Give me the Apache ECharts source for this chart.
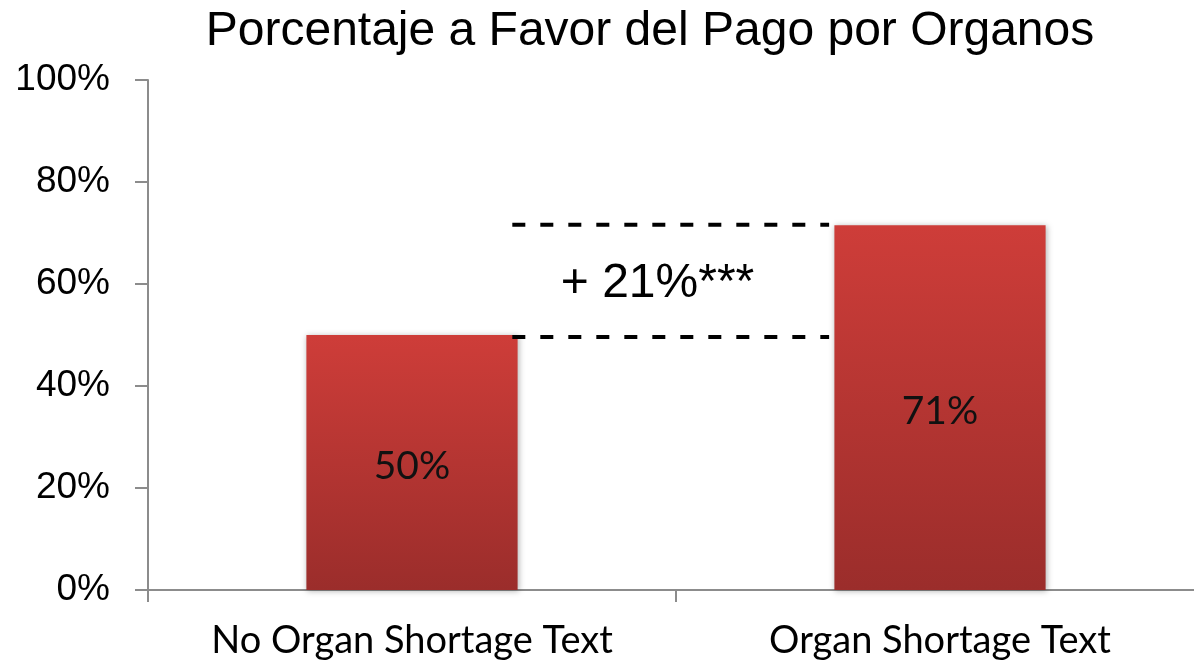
<!DOCTYPE html>
<html>
<head>
<meta charset="utf-8">
<script src="https://cdn.jsdelivr.net/npm/echarts@6/dist/echarts.min.js"></script>
<style>
  html, body { margin: 0; padding: 0; background: #fff; }
  #chart { width: 1194px; height: 666px; }
</style>
</head>
<body>
<div id="chart"></div>
<script>
// 数据
const categories = ['No Organ Shortage Text', 'Organ Shortage Text']
const favor = [50, 71.5]
const favorLabels = ['50%', '71%']
// 差值括线（副 x 轴 0..2 上的位置）
const bracketX = [0.69, 1.29]
const bracketY = [49.6, 71.6]
const diffText = '+ 21%***'
const diffPos = [0.965, 60.0]

const chart = echarts.init(document.getElementById('chart'))

const axisGray = '#8c8c8c'

const option = {
  animation: false,
  title: {
    text: 'Porcentaje a Favor del Pago por Organos',
    left: 645,
    top: 3,
    textAlign: 'center',
    textStyle: {
      fontFamily: 'Liberation Sans, Arial, sans-serif',
      fontSize: 48,
      fontWeight: 'normal',
      color: '#000'
    }
  },
  grid: {
    left: 148,
    width: 1056,
    top: 80,
    height: 510,
    outerBoundsMode: 'none'
  },
  xAxis: [
    {
      type: 'category',
      data: categories,
      axisLine: { lineStyle: { color: axisGray, width: 2 } },
      axisTick: { show: true, length: 12, lineStyle: { color: axisGray, width: 2 } },
      axisLabel: {
        margin: 32,
        fontFamily: 'Lato, sans-serif',
        fontSize: 38,
        color: '#000'
      }
    },
    {
      type: 'value',
      min: 0,
      max: 2,
      show: false
    }
  ],
  yAxis: {
    type: 'value',
    min: 0,
    max: 100,
    interval: 20,
    axisLine: { show: true, lineStyle: { color: axisGray, width: 2 } },
    axisTick: { show: true, length: 13, lineStyle: { color: axisGray, width: 2 } },
    splitLine: { show: false },
    axisLabel: {
      formatter: '{value}%',
      margin: 38,
      fontFamily: 'Liberation Sans, Arial, sans-serif',
      fontSize: 37,
      color: '#000'
    }
  },
  series: [
    {
      type: 'bar',
      barWidth: '40%',
      data: favor,
      itemStyle: {
        color: new echarts.graphic.LinearGradient(0, 0, 0, 1, [
          { offset: 0, color: '#ce3d39' },
          { offset: 1, color: '#9b2d2b' }
        ]),
        shadowBlur: 6,
        shadowColor: 'rgba(0,0,0,0.3)',
        shadowOffsetX: 1,
        shadowOffsetY: 1
      },
      label: {
        show: true,
        position: 'inside',
        formatter: (p) => favorLabels[p.dataIndex],
        fontFamily: 'Lato, sans-serif',
        fontSize: 39,
        color: '#111',
        offset: [0, 4]
      }
    },
    {
      type: 'line',
      xAxisIndex: 1,
      data: [[bracketX[0], bracketY[0]], [bracketX[1], bracketY[0]]],
      symbol: 'none',
      lineStyle: { color: '#000', width: 4, type: [13, 15] }
    },
    {
      type: 'line',
      xAxisIndex: 1,
      data: [[bracketX[0], bracketY[1]], [bracketX[1], bracketY[1]]],
      symbol: 'none',
      lineStyle: { color: '#000', width: 4, type: [13, 15] }
    },
    {
      type: 'scatter',
      xAxisIndex: 1,
      symbolSize: 0,
      itemStyle: { opacity: 1 },
      data: [diffPos],
      label: {
        show: true,
        position: 'inside',
        formatter: diffText,
        fontFamily: 'Liberation Sans, Arial, sans-serif',
        fontSize: 48,
        color: '#000'
      }
    }
  ]
}

chart.setOption(option)
</script>
</body>
</html>
